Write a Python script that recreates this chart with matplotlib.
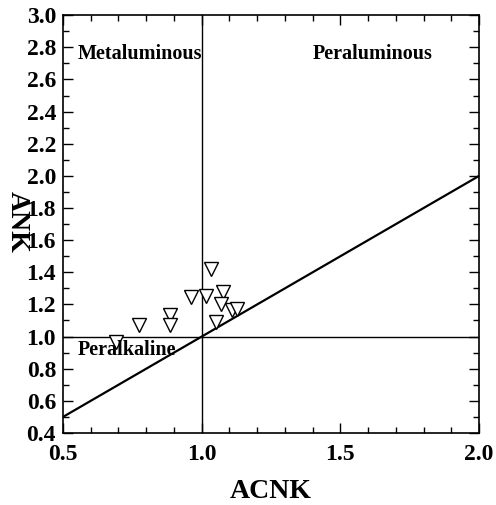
import numpy as np
import matplotlib.pyplot as plt
from matplotlib.ticker import MultipleLocator

# ACNK vs ANK samples
acnk = [0.69, 0.773, 0.885, 0.885, 0.963, 1.014, 1.035, 1.077, 1.069, 1.050, 1.110, 1.128]
ank = [0.966, 1.074, 1.132, 1.070, 1.247, 1.251, 1.423, 1.278, 1.201, 1.091, 1.164, 1.174]

plt.rcParams['font.family'] = ['Liberation Serif', 'DejaVu Serif']
plt.rcParams['font.weight'] = 'bold'

fig = plt.figure(figsize=(4.96, 5.05), dpi=100)
ax = fig.add_axes([0.127, 0.1426, 0.839, 0.8274])

# boundaries
ax.plot([1.0, 1.0], [0.4, 3.0], color='black', lw=1.0)
ax.plot([0.5, 2.0], [1.0, 1.0], color='black', lw=1.0)
ax.plot([0.5, 2.0], [0.5, 2.0], color='black', lw=1.6)

ax.plot(acnk, ank, linestyle='none', marker='v', markersize=10,
        markerfacecolor='white', markeredgecolor='black', markeredgewidth=1.0)

ax.text(0.554, 2.76, 'Metaluminous', fontsize=14.5, fontweight='bold', va='center')
ax.text(1.399, 2.76, 'Peraluminous', fontsize=14.5, fontweight='bold', va='center')
ax.text(0.554, 0.915, 'Peralkaline', fontsize=14.5, fontweight='bold', va='center')

ax.set_xlim(0.5, 2.0)
ax.set_ylim(0.4, 3.0)
ax.xaxis.set_major_locator(MultipleLocator(0.5))
ax.xaxis.set_minor_locator(MultipleLocator(0.1))
ax.yaxis.set_major_locator(MultipleLocator(0.2))
ax.yaxis.set_minor_locator(MultipleLocator(0.1))
ax.tick_params(which='both', direction='in', top=True, right=True, width=1.0)
ax.tick_params(which='major', length=7, labelsize=17, pad=5)
ax.tick_params(axis='x', which='major', pad=8)
ax.tick_params(which='minor', length=4)
ax.xaxis.set_major_formatter(plt.FormatStrFormatter('%.1f'))
ax.yaxis.set_major_formatter(plt.FormatStrFormatter('%.1f'))
for lab in ax.get_xticklabels() + ax.get_yticklabels():
    lab.set_fontweight('bold')
for s in ax.spines.values():
    s.set_linewidth(1.2)

ax.set_xlabel('ACNK', fontsize=20, fontweight='bold', labelpad=10)
ax.set_ylabel('ANK', fontsize=20, fontweight='bold', rotation=270, va='center')
ax.yaxis.set_label_coords(-0.11, 0.505)

plt.savefig('out.png', dpi=100)
